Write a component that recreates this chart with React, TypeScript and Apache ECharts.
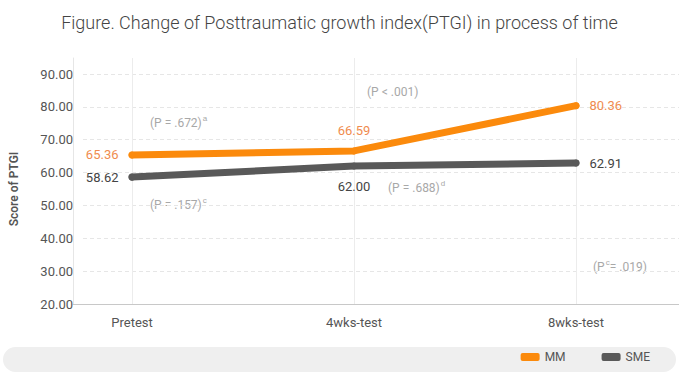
import React, { useEffect, useRef } from "react";
import * as echarts from "echarts";

const categories = ["Pretest", "4wks-test", "8wks-test"];
const mmValues = [65.36, 66.59, 80.36];
const smeValues = [58.62, 62.0, 62.91];
const yTicks = [20, 30, 40, 50, 60, 70, 80, 90];
const seriesNames = ["MM", "SME"];
const annotations = [
  { text: "(P = .672){sup|a}", x: 150, y: 123 },
  { text: "(P = .157){sup|c}", x: 150, y: 205 },
  { text: "(P < .001)", x: 367, y: 92 },
  { text: "(P = .688){sup|d}", x: 388, y: 188 },
  { text: "(P{sup|c}= .019)", x: 593, y: 267 },
];

const ORANGE = "#fb8a0c";
const ORANGE_LABEL = "#f08c4f";
const GRAY = "#595959";
const FONT = "Roboto";

export default function App() {
  const ref = useRef<HTMLDivElement>(null);
  useEffect(() => {
    if (!ref.current) return;
    const chart = echarts.init(ref.current, undefined, { renderer: "svg" });
    const labelPos = ["left", "top", "right"];
    const smeLabelPos = ["left", "bottom", "right"];
    const gridBottom = 73;
    const option: any = {
      animation: false,
      textStyle: { fontFamily: FONT },
      title: {
        text: "Figure. Change of Posttraumatic growth index(PTGI) in process of time",
        left: "center",
        top: 8,
        textStyle: { fontSize: 18, fontWeight: 300, color: "#444", fontFamily: FONT },
      },
      graphic: [
        {
          type: "rect",
          shape: { x: 3, y: 347, width: 673, height: 25, r: 12.5 },
          style: { fill: "#efefef" },
          z: -10,
        },
        ...annotations.map((a) => ({
          type: "text",
          x: a.x,
          y: a.y,
          style: {
            text: a.text,
            fill: "#a8a8a8",
            fontSize: 12,
            lineHeight: 18,
            fontFamily: FONT,
            verticalAlign: "middle",
            rich: {
              sup: { fontSize: 8, verticalAlign: "top", lineHeight: 8, fill: "#a8a8a8", padding: [0, 0, 0, 1] },
            },
          },
        })),
      ],
      legend: {
        data: seriesNames,
        right: 24,
        top: 346,
        icon: "roundRect",
        itemWidth: 19,
        itemHeight: 8,
        itemGap: 36,
        textStyle: { color: "#555", fontSize: 12, fontFamily: FONT },
      },
      grid: [
        { left: 73, right: 0, top: 74, bottom: gridBottom },
        { left: 73, right: 0, top: 58, bottom: gridBottom },
        { left: 132, right: 103, top: 58, bottom: gridBottom },
        { left: 132, right: 103, top: 74, bottom: gridBottom },
      ],
      xAxis: [
        { gridIndex: 0, type: "value", show: false },
        {
          gridIndex: 1,
          type: "value",
          axisLine: { show: true, lineStyle: { color: "#c8c8c8" } },
          axisTick: { show: false },
          axisLabel: { show: false },
          splitLine: { show: false },
        },
        {
          gridIndex: 2,
          type: "category",
          data: categories,
          boundaryGap: false,
          axisLine: { show: false },
          axisTick: { show: false },
          axisLabel: { color: "#555", fontSize: 13, margin: 12, fontFamily: FONT },
          splitLine: { show: true, lineStyle: { color: "#ececec", type: "solid" } },
        },
        { gridIndex: 3, type: "category", data: categories, boundaryGap: false, show: false },
      ],
      yAxis: [
        {
          gridIndex: 0,
          type: "value",
          min: yTicks[0],
          max: yTicks[yTicks.length - 1],
          interval: 10,
          axisLine: { show: false },
          axisTick: { show: false },
          axisLabel: {
            color: "#555",
            fontSize: 13,
            margin: 10,
            fontFamily: FONT,
            formatter: (v: number) => v.toFixed(2),
          },
          splitLine: { show: true, lineStyle: { color: "#e6e6e6", type: [4, 3] } },
          name: "Score of PTGI",
          nameLocation: "middle",
          nameGap: 63,
          nameTextStyle: { color: "#555", fontSize: 12, fontWeight: 600, fontFamily: FONT },
        },
        {
          gridIndex: 1,
          type: "value",
          axisLine: { show: true, lineStyle: { color: "#e6e6e6" } },
          axisTick: { show: false },
          axisLabel: { show: false },
          splitLine: { show: false },
        },
        { gridIndex: 2, type: "value", show: false, splitLine: { show: false } },
        {
          gridIndex: 3,
          type: "value",
          min: yTicks[0],
          max: yTicks[yTicks.length - 1],
          show: false,
          splitLine: { show: false },
        },
      ],
      series: [
        {
          name: seriesNames[0],
          type: "line",
          xAxisIndex: 3,
          yAxisIndex: 3,
          data: mmValues.map((v, i) => ({
            value: v,
            label: { position: labelPos[i] },
          })),
          symbol: "circle",
          symbolSize: 7,
          color: ORANGE,
          lineStyle: { width: 7, color: ORANGE, cap: "round", join: "round" },
          itemStyle: { color: ORANGE },
          label: {
            show: true,
            color: ORANGE_LABEL,
            fontSize: 13,
            distance: 10,
            fontFamily: FONT,
            formatter: (p: any) => p.value.toFixed(2),
          },
          z: 3,
        },
        {
          name: seriesNames[1],
          type: "line",
          xAxisIndex: 3,
          yAxisIndex: 3,
          data: smeValues.map((v, i) => ({
            value: v,
            label: { position: smeLabelPos[i] },
          })),
          symbol: "circle",
          symbolSize: 7,
          color: GRAY,
          lineStyle: { width: 7, color: GRAY, cap: "round", join: "round" },
          itemStyle: { color: GRAY },
          label: {
            show: true,
            color: "#444",
            fontSize: 13,
            distance: 10,
            fontFamily: FONT,
            formatter: (p: any) => p.value.toFixed(2),
          },
          z: 2,
        },
      ],
    };
    chart.setOption(option);
    return () => chart.dispose();
  }, []);
  return (
    <div
      ref={ref}
      style={{ position: "absolute", left: 0, top: 0, width: 679, height: 377 }}
    />
  );
}
